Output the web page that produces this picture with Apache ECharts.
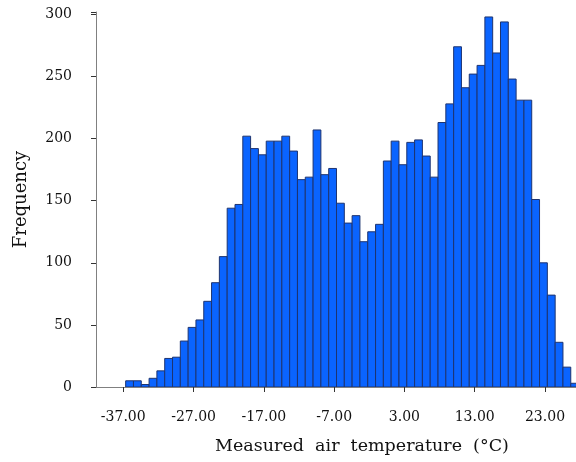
<!DOCTYPE html>
<html>
<head>
<meta charset="utf-8">
<script src="https://cdn.jsdelivr.net/npm/echarts@6/dist/echarts.min.js"></script>
<style>
  html, body { margin: 0; padding: 0; background: #fff; }
  #chart { width: 576px; height: 462px; }
</style>
</head>
<body>
<div id="chart"></div>
<script>
// histogram bins: start of first bin and width (deg C)
const binStart = -36.66;
const binWidth = 1.111;
const counts = [
  5, 5, 2, 7, 13, 23, 24, 37, 48, 54,
  69, 84, 105, 144, 147, 202, 192, 187, 198, 198,
  202, 190, 167, 169, 207, 171, 176, 148, 132, 138,
  117, 125, 131, 182, 198, 179, 197, 199, 186, 169,
  213, 228, 274, 241, 252, 259, 298, 269, 294, 248,
  231, 231, 151, 100, 74, 36, 16, 3
];
const xTicks = [-37, -27, -17, -7, 3, 13, 23];
const yTicks = [0, 50, 100, 150, 200, 250, 300];

const bins = counts.map(function (c, i) {
  const s = binStart + i * binWidth;
  return [s, s + binWidth, c];
});

const font = "DejaVu Serif";
const chart = echarts.init(document.getElementById("chart"));

chart.setOption({
  animation: false,
  title: {
    text: "Measured  air  temperature  (°C)",
    left: 357,
    top: 432,
    textAlign: "center",
    textStyle: { fontFamily: font, fontSize: 17.5, fontWeight: "normal", color: "#111" }
  },
  grid: { left: 96, right: 0, top: 12, bottom: 75 },
  xAxis: {
    type: "value",
    min: -40.88,
    max: 27.41,
    splitLine: { show: false },
    axisLine: { onZero: false, lineStyle: { color: "#808080", width: 1 } },
    axisTick: { show: true, customValues: xTicks, length: 5, lineStyle: { color: "#333" } },
    axisLabel: {
      customValues: xTicks,
      margin: 23,
      fontFamily: font,
      fontSize: 14,
      color: "#111",
      formatter: function (v) { return v.toFixed(2); }
    }
  },
  yAxis: {
    type: "value",
    min: 0,
    max: 302,
    interval: 50,
    name: "Frequency",
    nameLocation: "middle",
    nameGap: 66,
    nameTextStyle: { fontFamily: font, fontSize: 18, color: "#111" },
    splitLine: { show: false },
    axisLine: { show: true, onZero: false, lineStyle: { color: "#808080", width: 1 } },
    axisTick: { show: true, length: 5, lineStyle: { color: "#333" } },
    axisLabel: {
      customValues: yTicks,
      margin: 24,
      fontFamily: font,
      fontSize: 14,
      color: "#111"
    }
  },
  series: [{
    type: "custom",
    clip: true,
    encode: { x: [0, 1], y: 2 },
    data: bins,
    renderItem: function (params, api) {
      const p0 = api.coord([api.value(0), 0]);
      const p1 = api.coord([api.value(1), api.value(2)]);
      return {
        type: "rect",
        shape: { x: p0[0], y: p1[1], width: p1[0] - p0[0], height: p0[1] - p1[1] },
        style: { fill: "#0a64ff", stroke: "#1e3470", lineWidth: 1 }
      };
    }
  }]
});
</script>
</body>
</html>
